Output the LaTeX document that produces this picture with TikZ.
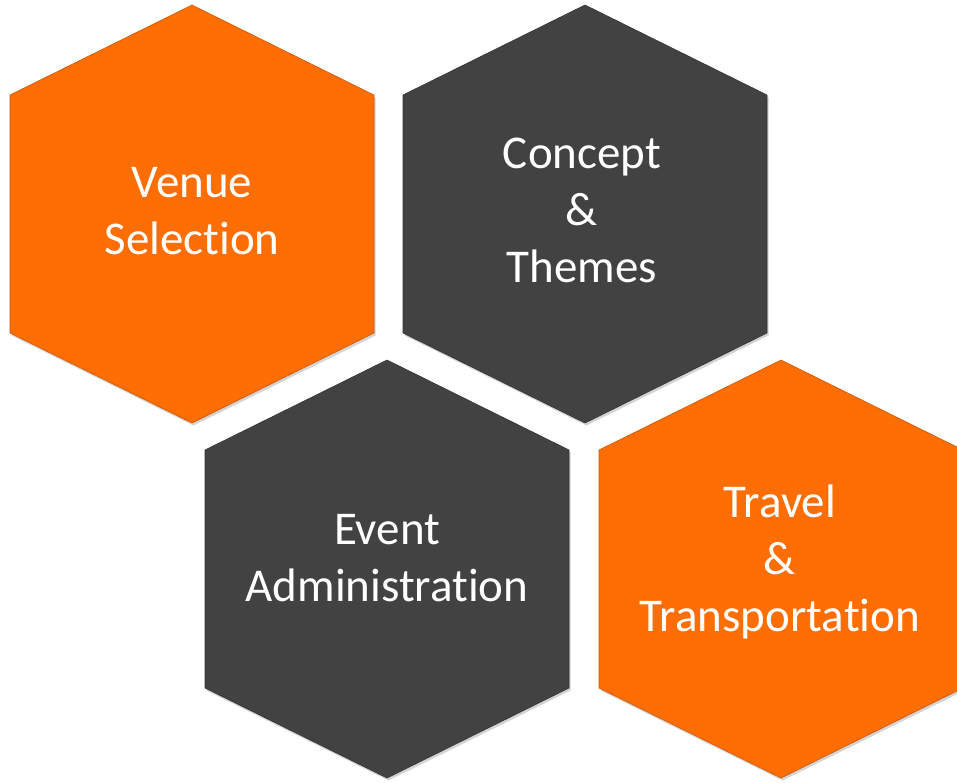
\documentclass[tikz,border=0pt]{standalone}
\usepackage{fontspec}
\setmainfont{Carlito}[Ligatures = NoCommon]
\usepackage{tikz}
\usetikzlibrary{shadows}
\tikzset{hex/.style = {draw = #1!80!black, line width = 0.6, fill = #1,
                       drop shadow = {opacity = 0.35, shadow xshift = 1.5pt,
                                      shadow yshift = -2.5pt}}}
\tikzset{hextext/.style = {text = white, align = center,
                           font = \fontsize{47}{57}\selectfont}}
\definecolor{morange}{rgb}{1, 0.43, 0.02}
\definecolor{mgray}{rgb}{0.26, 0.26, 0.26}

\begin{document}
\begin{tikzpicture}[x = 1pt, y = -1pt]
      \useasboundingbox (0, 0) rectangle (957, 782);
      \clip (0, 0) rectangle (957, 782);

      \draw [hex = morange] (192, 5) -- ++(182, 90) -- ++(0, 238) -- ++(-182, 90)
            -- ++(-182, -90) -- ++(0, -238) -- cycle;
      \draw [hex = mgray] (585, 5) -- ++(182, 90) -- ++(0, 238) -- ++(-182, 90)
            -- ++(-182, -90) -- ++(0, -238) -- cycle;
      \draw [hex = mgray] (387, 360) -- ++(182, 90) -- ++(0, 238) -- ++(-182, 90)
            -- ++(-182, -90) -- ++(0, -238) -- cycle;
      \draw [hex = morange] (781, 360) -- ++(182, 90) -- ++(0, 238) -- ++(-182, 90)
            -- ++(-182, -90) -- ++(0, -238) -- cycle;

      \node [hextext] (venue) at (192, 211) {Venue\\Selection};
      \node [hextext] (concept) at (582, 210) {Concept\\\&\\Themes};
      \node [hextext] (event) at (387, 558) {Event\\Administration};
      \node [hextext] (travel) at (780, 562) {Travel\\\&\\Transportation};
\end{tikzpicture}
\end{document}
